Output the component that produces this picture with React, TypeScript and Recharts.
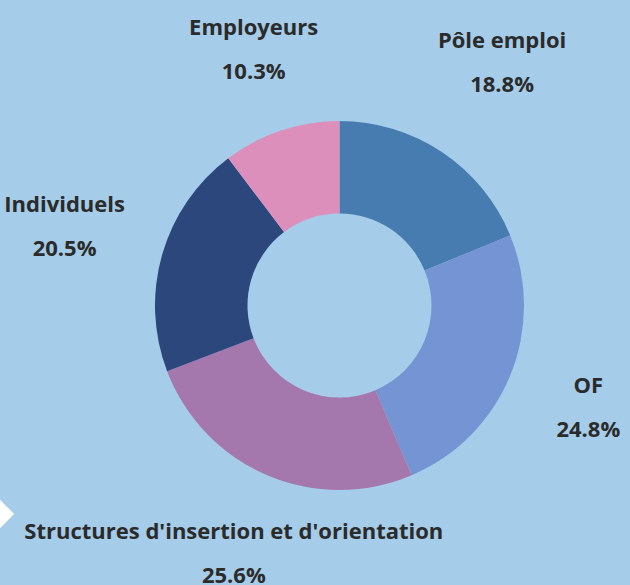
import React from "react";
import { PieChart, Pie, Cell } from "recharts";

const categories = ["Pôle emploi", "OF", "Structures d'insertion et d'orientation", "Individuels", "Employeurs"];
const shares = [18.8, 24.8, 25.6, 20.5, 10.3];
const percentLabels = ["18.8%", "24.8%", "25.6%", "20.5%", "10.3%"];

const COLORS = ["#467cb0", "#7594d4", "#a578ad", "#2c477c", "#db8fba"];
// distance from the centre at which each label block is placed (styling)
const LABEL_DIST = [292, 269, 270, 286, 270];

const data = categories.map((name, i) => ({ name, value: shares[i], pct: percentLabels[i] }));

const FONT = "'Open Sans', 'Noto Sans', sans-serif";

const renderLabel = (props: any) => {
  const { cx, cy, midAngle, index } = props;
  const RAD = Math.PI / 180;
  const d = LABEL_DIST[index];
  const x = cx + d * Math.cos(-midAngle * RAD);
  const y = cy + d * Math.sin(-midAngle * RAD) - 2;
  return (
    <g>
      <text x={x} y={y - 22} textAnchor="middle" dominantBaseline="central" fill="#2b2b2b" fontFamily={FONT} fontWeight={700} fontSize={22}>
        {data[index].name}
      </text>
      <text x={x} y={y + 22} textAnchor="middle" dominantBaseline="central" fill="#2b2b2b" fontFamily={FONT} fontWeight={700} fontSize={22}>
        {data[index].pct}
      </text>
    </g>
  );
};

export default function App() {
  return (
    <div style={{ position: "absolute", left: 0, top: 0, width: 630, height: 585, background: "#a5cce8", overflow: "hidden" }}>
      <div style={{ position: "absolute", left: -10, top: 504, width: 20, height: 20, background: "#ffffff", transform: "rotate(45deg)" }} />
      <div style={{ position: "absolute", left: 0, top: 0 }}>
        <PieChart width={630} height={585} margin={{ top: 0, right: 0, bottom: 0, left: 0 }}>
          <Pie
            data={data}
            dataKey="value"
            nameKey="name"
            cx={339.5}
            cy={305.5}
            innerRadius={92}
            outerRadius={184.5}
            startAngle={90}
            endAngle={-270}
            stroke="none"
            label={renderLabel}
            labelLine={false}
            isAnimationActive={false}
          >
            {data.map((_, i) => (
              <Cell key={i} fill={COLORS[i]} />
            ))}
          </Pie>
        </PieChart>
      </div>
    </div>
  );
}
